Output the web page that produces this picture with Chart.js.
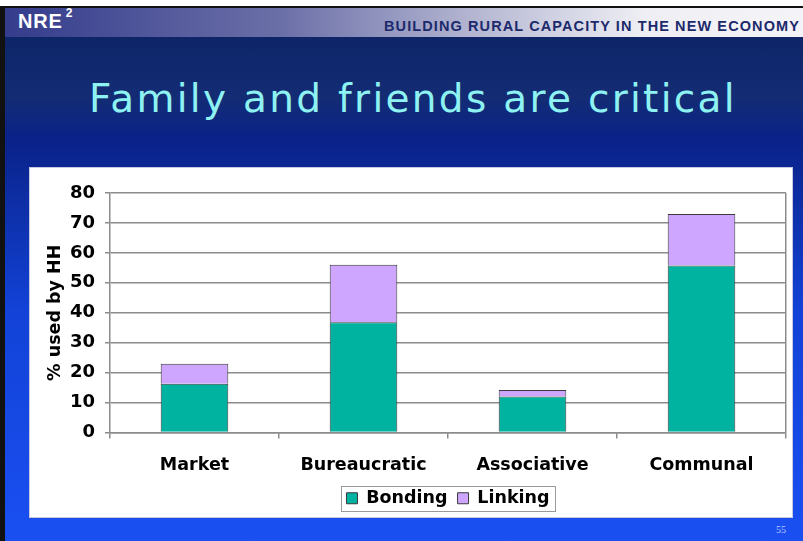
<!DOCTYPE html>
<html>
<head>
<meta charset="utf-8">
<script src="https://cdn.jsdelivr.net/npm/chart.js@4.4.1/dist/chart.umd.min.js"></script>
<style>
    html, body { margin: 0; padding: 0; }
    body {
        width: 803px; height: 541px; overflow: hidden; position: relative;
        background: #fff;
    }
    #slide {
        position: absolute; left: 0; top: 6px; width: 803px; height: 535px;
        border-left: 5px solid #111; border-top: 2px solid #111; box-sizing: border-box;
        background: linear-gradient(to bottom, #0b2262 0px, #132c74 90px, #0a2288 130px, #1242d6 300px, #1a4ff2 535px);
    }
    #header {
        position: absolute; left: 5px; top: 8px; width: 798px; height: 29px;
        background: linear-gradient(to right, #343c8c 0%, #6c70a8 35%, #b8bad4 60%, #eeeef4 80%, #f4f4f8 100%);
    }
    #nre {
        position: absolute; left: 18px; top: 9px;
        font: bold 20px "Liberation Sans", Arial, sans-serif; color: #fff; letter-spacing: 0.8px;
    }
    #nre sup { font-size: 12px; position: relative; top: -3px; margin-left: 3px; }
    #tagline {
        position: absolute; right: 3px; top: 18px;
        font: bold 14.5px "Liberation Sans", Arial, sans-serif; color: #1c2a6c; letter-spacing: 1.1px;
    }
    #title {
        position: absolute; left: 0; width: 826px; top: 76px; text-align: center;
        font: 39px "DejaVu Sans", Verdana, sans-serif; color: #8ff2f2; letter-spacing: 2.3px;
    }
    #chartBox {
        position: absolute; left: 30px; top: 168px; width: 762px; height: 349px;
        background: #fff; box-shadow: 0 0 0 1px #c8c8e0;
    }
    #pageNo {
        position: absolute; left: 776px; top: 524px;
        font: 10px "Liberation Serif", serif; color: #b8c8ff;
    }
</style>
</head>
<body>
<div id="slide"></div>
<div id="header"></div>
<div id="nre">NRE<sup>2</sup></div>
<div id="tagline">BUILDING RURAL CAPACITY IN THE NEW ECONOMY</div>
<div id="title">Family and friends are critical</div>
<div id="chartBox"><canvas id="myChart" width="762" height="349"></canvas></div>
<div id="pageNo">55</div>

<script>
// datos
const categories = ['Market', 'Bureaucratic', 'Associative', 'Communal'];
const bondingValues = [16.3, 36.8, 12, 55.8];
const linkingValues = [6.7, 19.2, 2.2, 17.2];
const seriesNames = ['Bonding', 'Linking'];
const yAxisTitle = '% used by HH';

const gridColor = '#8c8c8c';
const labelFont = { family: '"DejaVu Sans", Verdana, sans-serif', weight: 'bold', size: 17.5 };

// marco alrededor de la leyenda
const legendFrame = {
    id: 'legendFrame',
    afterDraw(chart) {
        const boxes = chart.legend && chart.legend.legendHitBoxes;
        if (!boxes || !boxes.length) return;
        const left = Math.min(...boxes.map(b => b.left)) - 5;
        const right = Math.max(...boxes.map(b => b.left + b.width)) + 6;
        const top = Math.min(...boxes.map(b => b.top)) - 4;
        const bottom = Math.max(...boxes.map(b => b.top + b.height)) + 3;
        const ctx = chart.ctx;
        ctx.save();
        ctx.strokeStyle = '#9a9a9a';
        ctx.lineWidth = 1;
        ctx.strokeRect(Math.round(left) + 0.5, Math.round(top) + 0.5, Math.round(right - left), Math.round(bottom - top));
        ctx.restore();
    }
};

document.addEventListener('DOMContentLoaded', () => {
    const ctx = document.getElementById('myChart').getContext('2d');
    new Chart(ctx, {
        type: 'bar',
        data: {
            labels: categories,
            datasets: [{
                label: seriesNames[0],
                data: bondingValues,
                backgroundColor: '#00b3a0',
                borderColor: '#3a3a3a',
                borderWidth: 1,
                barPercentage: 0.8,
                categoryPercentage: 0.5,
            }, {
                label: seriesNames[1],
                data: linkingValues,
                backgroundColor: '#cfa6ff',
                borderColor: '#3a3a3a',
                borderWidth: 1,
                barPercentage: 0.8,
                categoryPercentage: 0.5,
            }],
        },
        options: {
            responsive: false,
            animation: false,
            layout: { padding: { left: 0, right: 6, top: 25, bottom: 0 } },
            plugins: {
                tooltip: { enabled: false },
                legend: {
                    position: 'bottom',
                    fullSize: false,
                    labels: {
                        color: '#000',
                        font: labelFont,
                        boxWidth: 11,
                        boxHeight: 11,
                        padding: 10,
                    },
                },
            },
            scales: {
                x: {
                    stacked: true,
                    grid: {
                        offset: true,
                        // solo la linea del borde derecho
                        color: c => c.type === 'scale' ? gridColor : 'rgba(0,0,0,0)',
                        tickColor: gridColor,
                        lineWidth: 1.5,
                        tickLength: 6,
                    },
                    border: { color: gridColor, width: 1.5 },
                    ticks: { color: '#000', font: labelFont, padding: 16 },
                    afterFit: s => { s.height = 47; },
                },
                y: {
                    stacked: true,
                    min: 0,
                    max: 80,
                    grid: { color: gridColor, lineWidth: 1.5, tickLength: 5 },
                    border: { color: gridColor, width: 1.5 },
                    ticks: {
                        stepSize: 10,
                        color: '#000',
                        padding: 10,
                        font: { family: '"DejaVu Sans", Verdana, sans-serif', weight: 'bold', size: 18 },
                    },
                    title: {
                        display: true,
                        text: yAxisTitle,
                        color: '#000',
                        font: labelFont,
                        padding: { top: 14.5, bottom: 0 },
                    },
                    afterFit: s => { s.width = 80; },
                },
            },
        },
        plugins: [legendFrame],
    });
});
</script>
</body>
</html>
